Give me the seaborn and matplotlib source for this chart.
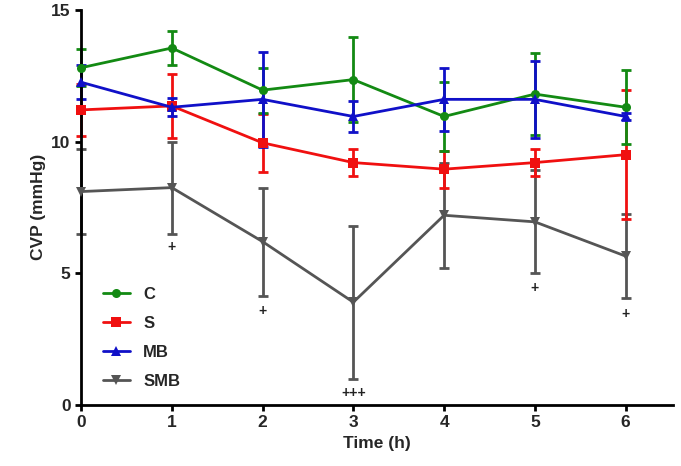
import pandas as pd
import seaborn as sns
import matplotlib.pyplot as plt

# time points (h)
time = [0, 1, 2, 3, 4, 5, 6]

groups = ['C', 'S', 'MB', 'SMB']

# mean CVP (mmHg)
c_mean = [12.8, 13.55, 11.95, 12.35, 10.95, 11.8, 11.3]
s_mean = [11.2, 11.35, 9.95, 9.2, 8.95, 9.2, 9.5]
mb_mean = [12.25, 11.3, 11.6, 10.95, 11.6, 11.6, 10.95]
smb_mean = [8.1, 8.25, 6.2, 3.9, 7.2, 6.95, 5.65]

# error bar half-widths
c_err = [0.7, 0.65, 0.85, 1.6, 1.3, 1.55, 1.4]
s_err = [1.0, 1.2, 1.1, 0.5, 0.7, 0.5, 2.45]
mb_err = [0.65, 0.35, 1.8, 0.6, 1.2, 1.45, 0.15]
smb_err = [1.6, 1.75, 2.05, 2.9, 2.0, 1.95, 1.6]

# significance marks below SMB
sig_x = [1, 2, 3, 5, 6]
sig_y = [6.0, 3.55, 0.45, 4.45, 3.45]
sig_txt = ['+', '+', '+++', '+', '+']

means = {'C': c_mean, 'S': s_mean, 'MB': mb_mean, 'SMB': smb_mean}
errs = {'C': c_err, 'S': s_err, 'MB': mb_err, 'SMB': smb_err}
colors = {'C': '#138a13', 'S': '#f01010', 'MB': '#1010c8', 'SMB': '#555555'}
markers = {'C': 'o', 'S': 's', 'MB': '^', 'SMB': 'v'}

df = pd.DataFrame([
    {'Time': t, 'Group': g, 'CVP': m, 'err': e}
    for g in groups for t, m, e in zip(time, means[g], errs[g])
])

sns.set_style('ticks')
plt.rcParams['font.family'] = ['Liberation Sans', 'DejaVu Sans']
plt.rcParams['font.weight'] = 'bold'

fig = plt.figure(figsize=(6.81, 4.66), dpi=100)
ax = fig.add_axes([0.119, 0.131, 0.869, 0.848])

draw_order = ['SMB', 'S', 'C', 'MB']
for g in draw_order:
    sub = df[df['Group'] == g]
    ax.errorbar(sub['Time'], sub['CVP'], yerr=sub['err'], fmt='none',
                ecolor=colors[g], elinewidth=2, capsize=3.5, capthick=2,
                clip_on=False, zorder=2)

sns.lineplot(data=df, x='Time', y='CVP', hue='Group', style='Group',
             hue_order=groups, style_order=groups, palette=colors,
             markers=markers, dashes=False, linewidth=2, markersize=6.5,
             markeredgewidth=0, ax=ax, clip_on=False, zorder=3)

for x, y, t in zip(sig_x, sig_y, sig_txt):
    ax.text(x, y, t, ha='center', va='center', fontsize=10, color='#222222')

ax.set_xlim(0, 6.52)
ax.set_ylim(0, 15)
ax.set_xticks(time)
ax.set_yticks([0, 5, 10, 15])
ax.set_xlabel('Time (h)', fontsize=12.5, fontweight='bold')
ax.set_ylabel('CVP (mmHg)', fontsize=12.5, fontweight='bold')
ax.tick_params(labelsize=12.5, width=2, length=4, color='black')
for lab in ax.get_xticklabels() + ax.get_yticklabels():
    lab.set_fontweight('bold')
sns.despine(ax=ax)
for sp in ['left', 'bottom']:
    ax.spines[sp].set_linewidth(2)
    ax.spines[sp].set_color('black')

leg = ax.legend(loc='upper left', bbox_to_anchor=(0.012, 0.337), frameon=False,
                fontsize=12, handlelength=1.6, handletextpad=0.8,
                labelspacing=0.85, title=None)
for txt in leg.get_texts():
    txt.set_fontweight('bold')

fig.savefig('out.png', dpi=100)
